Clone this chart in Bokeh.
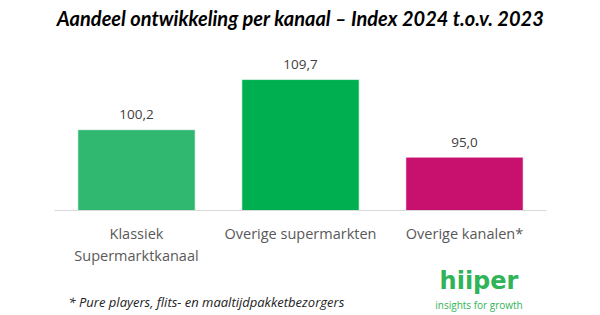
from bokeh.plotting import figure
from bokeh.models import ColumnDataSource, Range1d, Label, FixedTicker
from bokeh.layouts import column
from bokeh.embed import file_html
from bokeh.resources import INLINE

categories = ["Klassiek\nSupermarktkanaal", "Overige supermarkten", "Overige kanalen*"]
values = [100.2, 109.7, 95.0]
value_labels = ["100,2", "109,7", "95,0"]
bar_colors = ["#30b870", "#00b050", "#c8116e"]

title_text = "Aandeel ontwikkeling per kanaal \u2013 Index 2024 t.o.v. 2023"
footnote_text = "* Pure players, flits- en maaltijdpakketbezorgers"
logo_text = "hiiper"
tagline_text = "insights for growth"

Y0, Y1 = 84.9, 124.67
positions = [i + 0.5 for i in range(len(categories))]

source = ColumnDataSource(dict(x=positions, val=values, lbl=value_labels, col=bar_colors))

p = figure(x_range=Range1d(0, len(categories)), y_range=Range1d(Y0, Y1),
           width=600, height=268, min_border_left=54, min_border_right=54,
           min_border_top=0, min_border_bottom=57,
           output_backend="svg", toolbar_location=None)

p.vbar(x="x", top="val", bottom=Y0, width=0.715, source=source,
       fill_color="col", line_color="white", line_alpha=0.6, line_width=1)

p.text(x="x", y="val", text="lbl", source=source, y_offset=-15,
       text_align="center", text_baseline="alphabetic",
       text_font_size="13.5px", text_color="#404040",
       text_font={"value": "Open Sans"})

p.yaxis.visible = False
p.xgrid.grid_line_color = None
p.ygrid.grid_line_color = None
p.outline_line_color = None
xa = p.xaxis[0]
xa.ticker = FixedTicker(ticks=positions)
xa.major_label_overrides = {pos: cat for pos, cat in zip(positions, categories)}
xa.axis_line_color = "#d9d9d9"
xa.axis_line_width = 1
xa.major_tick_line_color = None
xa.minor_tick_line_color = None
xa.major_label_text_font = "Open Sans"
xa.major_label_text_font_size = "14.5px"
xa.major_label_text_color = "#595959"
xa.major_label_standoff = 7

p.add_layout(Label(x=1.5, y=121.3, text=title_text, text_align="center",
                   text_baseline="alphabetic", text_font="Lato", text_font_size="20px",
                   text_font_style="bold italic", text_color="#000000"))

# footer strip (footnote + logo); its frame is aligned with the main frame (54..546)
f = figure(x_range=Range1d(54, 546), y_range=Range1d(315, 268),
           width=600, height=47, min_border_left=54, min_border_right=54,
           min_border_top=0, min_border_bottom=0,
           output_backend="svg", toolbar_location=None)
f.xaxis.visible = False
f.yaxis.visible = False
f.xgrid.grid_line_color = None
f.ygrid.grid_line_color = None
f.outline_line_color = None

f.add_layout(Label(x=68, y=301, text=footnote_text, text_align="left",
                   text_baseline="alphabetic", text_font="Open Sans", text_font_size="13px",
                   text_font_style="italic", text_color="#222222"))
f.add_layout(Label(x=478.5, y=280, text=logo_text, text_align="center",
                   text_baseline="alphabetic", text_font="DejaVu Sans", text_font_size="24px",
                   text_font_style="bold", text_color="#2fb457"))
f.add_layout(Label(x=478.5, y=304.5, text=tagline_text, text_align="center",
                   text_baseline="alphabetic", text_font="Open Sans", text_font_size="10px",
                   text_color="#2fb457"))

layout = column(p, f, spacing=0)
open("out.html", "w").write(file_html(layout, INLINE))
